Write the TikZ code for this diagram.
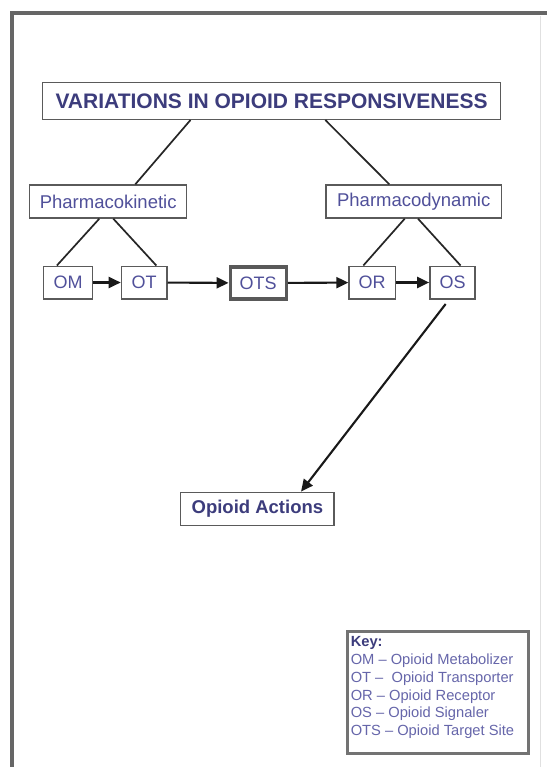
\documentclass[tikz,border=0pt]{standalone}
\usepackage{fontspec}
\setmainfont{Liberation Sans}
\usetikzlibrary{calc,arrows.meta}
\definecolor{titleblue}{HTML}{3C3C7C}
\definecolor{txtblue}{HTML}{50509A}
\definecolor{keyblue}{HTML}{6666AA}
\definecolor{boxgray}{HTML}{5A5A5A}
\begin{document}
\begin{tikzpicture}[x=1pt,y=-1pt,
  box/.style={draw=boxgray,line width=1.4pt,fill=white,inner sep=0pt,text=txtblue,font=\fontsize{18}{20}\selectfont},
  link/.style={draw=black!85,line width=1.7pt},
  arr/.style={draw=black!90,line width=2.1pt,-{Triangle[length=12pt,width=11pt]}}]
\useasboundingbox (0,0) rectangle (547,767);
\fill[white] (0,0) rectangle (547,767);
% frame
\draw[line width=3.5pt,draw=black!60] (10,13) -- (547,13);
\draw[line width=4.5pt,draw=black!60] (12,12) -- (12,767);
\draw[line width=1pt,draw=black!12] (540,16) -- (540,767);
% nodes
\node[box,minimum width=458pt,minimum height=36.6pt,text=titleblue,font=\bfseries\fontsize{21}{23}\selectfont] (title) at (271.6,101) {VARIATIONS IN OPIOID RESPONSIVENESS};
\node[box,minimum width=157pt,minimum height=33pt,font=\fontsize{18.5}{20}\selectfont] (pk) at (108.2,201.5) {Pharmacokinetic};
\node[box,minimum width=175.4pt,minimum height=33pt,font=\fontsize{18.5}{20}\selectfont] (pd) at (413.7,201.5) {Pharmacodynamic};
\node[box,minimum width=49pt,minimum height=32.6pt] (om) at (68,282.5) {OM};
\node[box,minimum width=45.4pt,minimum height=32.6pt] (ot) at (144.1,282.5) {OT};
\node[box,draw=black!65,line width=3.2pt,minimum width=56pt,minimum height=32pt] (ots) at (258.2,283) {OTS};
\node[box,minimum width=46.3pt,minimum height=32.6pt] (or) at (372.2,282.5) {OR};
\node[box,minimum width=45.3pt,minimum height=32.6pt] (os) at (452.5,282.5) {OS};
\node[box,minimum width=153.3pt,minimum height=33.4pt,text=titleblue,font=\bfseries\fontsize{18.5}{20}\selectfont] (act) at (257.4,509) {Opioid Actions};
% key
\node[draw=black!55,line width=3.5pt,fill=white,minimum width=180.6pt,minimum height=121.6pt,inner sep=0pt] (key) at (438,692.5) {};
\node[anchor=north west,inner sep=0pt,align=left,text=keyblue,font=\fontsize{14.7}{17.8}\selectfont] (keytxt) at ($(key.north west)+(4.6,6.5)$)
  {{\color{titleblue}\bfseries Key:}\\
   OM -- Opioid Metabolizer\\
   OT --\ \ Opioid Transporter\\
   OR -- Opioid Receptor\\
   OS -- Opioid Signaler\\
   OTS -- Opioid Target Site};
% tree links
\draw[link] ($(title.south west)+(148.6,0)$) -- ($(pk.north west)+(106.3,0)$);
\draw[link] ($(title.south west)+(283.4,0)$) -- ($(pd.north west)+(64,0)$);
\draw[link] ($(pk.south west)+(70.3,0)$) -- ($(om.north west)+(14.1,0)$);
\draw[link] ($(pk.south west)+(84.3,0)$) -- ($(ot.north west)+(35.6,0)$);
\draw[link] ($(pd.south west)+(79.4,0)$) -- ($(or.north west)+(15,0)$);
\draw[link] ($(pd.south west)+(92.7,0)$) -- ($(os.north west)+(31.4,0)$);
% chain arrows
\draw[arr] (om) -- (ot);
\draw[arr] (ot) -- (ots);
\draw[arr] (ots) -- (or);
\draw[arr] (or) -- (os);
\draw[arr] ($(os.south west)+(16.5,4.5)$) -- ($(act.north west)+(121,0)$);
\end{tikzpicture}
\end{document}
